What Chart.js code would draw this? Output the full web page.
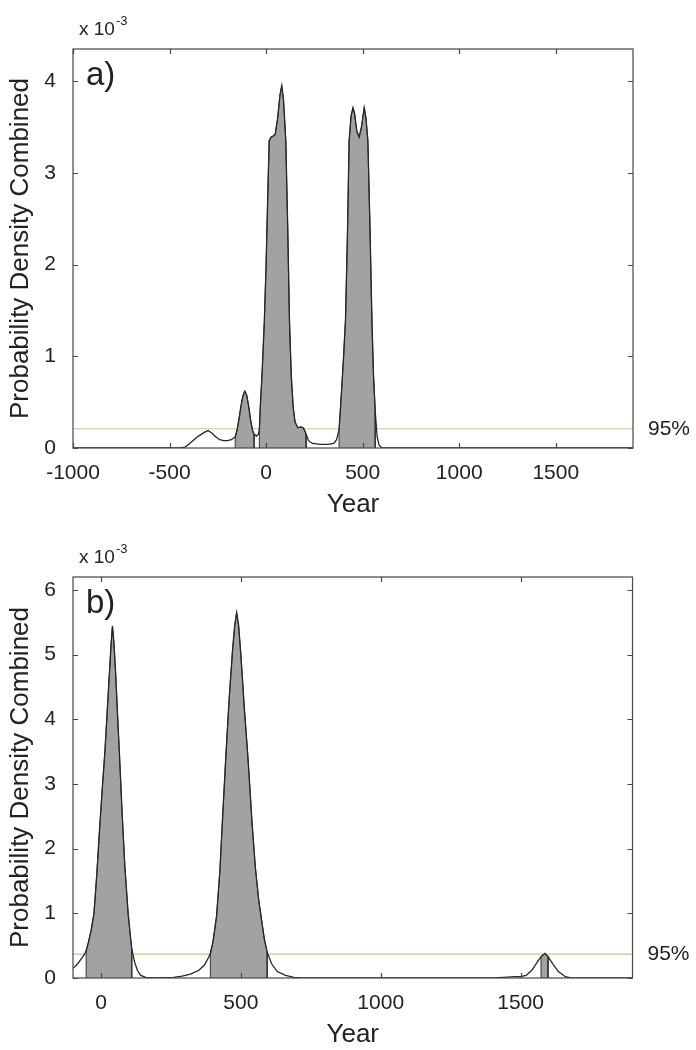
<!DOCTYPE html>
<html>
<head>
<meta charset="utf-8">
<script src="https://cdn.jsdelivr.net/npm/chart.js@4.4.0/dist/chart.umd.min.js"></script>
<style>
  body { margin: 0; background: #fff; }
  canvas { position: absolute; left: 0; }
  #chartA { top: 0; }
  #chartB { top: 520px; }
</style>
</head>
<body>
<canvas id="chartA" width="696" height="520"></canvas>
<canvas id="chartB" width="696" height="530"></canvas>
<script>
// panel a) - density in units of 10^-3
const yearsA = [-1000, -450, -420, -400, -380, -350, -320, -300, -280, -260, -240, -220, -200, -180, -160,
  -150, -140, -130, -120, -110, -100, -90, -80, -70, -62, -50, -40, -35, -30, -20, -9, 0, 8, 16, 26, 36, 47,
  60, 72, 81, 90, 102, 112, 121, 130, 140, 150, 165, 180, 192, 200, 207, 220, 240, 280, 320, 350, 365, 378,
  390, 400, 411, 421, 430, 440, 450, 458, 470, 482, 494, 508, 517, 527, 538, 548, 556, 565, 575, 585, 600, 1900];
const densityA = [0, 0, 0.01, 0.04, 0.08, 0.13, 0.17, 0.19, 0.16, 0.12, 0.09, 0.08, 0.08, 0.09, 0.12,
  0.2, 0.32, 0.46, 0.57, 0.62, 0.57, 0.45, 0.3, 0.19, 0.15, 0.13, 0.15, 0.2, 0.45, 0.85, 1.39, 2.0, 2.7, 3.35, 3.39, 3.4, 3.42,
  3.6, 3.85, 3.95, 3.8, 3.35, 2.4, 1.39, 0.8, 0.45, 0.28, 0.22, 0.23, 0.22, 0.19, 0.15, 0.08, 0.05, 0.04, 0.04, 0.05, 0.09, 0.2,
  0.6, 0.95, 1.39, 2.3, 3.35, 3.62, 3.71, 3.65, 3.45, 3.39, 3.5, 3.71, 3.6, 3.35, 2.4, 1.39, 0.8, 0.4, 0.12, 0.03, 0, 0];
const hpdA = [[-160, -62], [-35, 207], [378, 565]];
const thresholdA = 0.21;
const xTicksA = [-1000, -500, 0, 500, 1000, 1500];
const yTicksA = [0, 1, 2, 3, 4];

// panel b)
const yearsB = [-100, -90, -80, -70, -60, -53, -45, -35, -25, -15, -5, 5, 14, 22, 30, 36, 41, 46, 52, 60, 67,
  75, 85, 97, 105, 110, 120, 130, 142, 160, 200, 260, 290, 320, 350, 370, 385, 391, 400, 413, 425, 435, 446,
  458, 470, 478, 485, 492, 500, 512, 526, 540, 552, 564, 574, 584, 594, 610, 630, 660, 690, 720, 1400, 1440,
  1480, 1500, 1520, 1540, 1560, 1573, 1587, 1598, 1615, 1635, 1660, 1680, 1900];
const densityB = [0.15, 0.19, 0.24, 0.3, 0.36, 0.42, 0.55, 0.74, 1.0, 1.6, 2.3, 2.95, 3.5, 4.1, 4.7, 5.15, 5.44, 5.2, 4.75, 4.0, 3.37,
  2.6, 1.75, 1.0, 0.65, 0.45, 0.25, 0.12, 0.04, 0.01, 0, 0.01, 0.03, 0.06, 0.12, 0.2, 0.32, 0.38, 0.55, 0.95, 1.65, 2.5, 3.4,
  4.3, 5.05, 5.45, 5.65, 5.45, 5.0, 4.2, 3.37, 2.4, 1.7, 1.2, 0.9, 0.6, 0.4, 0.22, 0.1, 0.04, 0.01, 0, 0, 0.01,
  0.02, 0.02, 0.04, 0.12, 0.25, 0.33, 0.38, 0.33, 0.22, 0.1, 0.02, 0, 0];
const hpdB = [[-53, 110], [391, 594], [1573, 1598]];
const thresholdB = 0.37;
const xTicksB = [0, 500, 1000, 1500];
const yTicksB = [0, 1, 2, 3, 4, 5, 6];

const FONT = 'Liberation Sans';
const TEXT = '#222';

function toPoints(xs, ys) {
  return xs.map((x, i) => ({ x: x, y: ys[i] }));
}

// gray area for one HPD interval, closed down to zero at both ends
function hpdPoints(xs, ys, range) {
  const pts = [{ x: range[0], y: 0 }];
  xs.forEach((x, i) => {
    if (x >= range[0] && x <= range[1]) pts.push({ x: x, y: ys[i] });
  });
  pts.push({ x: range[1], y: 0 });
  return pts;
}

// matlab style box with inward ticks + the loose labels
const frame = {
  id: 'frame',
  afterDraw(chart, args, opts) {
    const { ctx, chartArea: a, scales: { x, y } } = chart;
    ctx.save();
    ctx.strokeStyle = '#474747';
    ctx.lineWidth = 1.2;
    ctx.strokeRect(a.left, a.top, a.right - a.left, a.bottom - a.top);
    ctx.beginPath();
    x.ticks.forEach(t => {
      const px = Math.round(x.getPixelForValue(t.value)) + 0.5;
      ctx.moveTo(px, a.bottom); ctx.lineTo(px, a.bottom - 5);
      ctx.moveTo(px, a.top); ctx.lineTo(px, a.top + 5);
    });
    y.ticks.forEach(t => {
      const py = Math.round(y.getPixelForValue(t.value)) + 0.5;
      ctx.moveTo(a.left, py); ctx.lineTo(a.left + 5, py);
      ctx.moveTo(a.right, py); ctx.lineTo(a.right - 5, py);
    });
    ctx.stroke();

    ctx.fillStyle = TEXT;
    ctx.textBaseline = 'alphabetic';
    ctx.font = '33px "' + FONT + '"';
    ctx.fillText(opts.panel, a.left + 13, a.top + 36);

    ctx.font = '19px "' + FONT + '"';
    ctx.fillText('x 10', a.left + 6, a.top - 14);
    const w = ctx.measureText('x 10').width;
    ctx.font = '13px "' + FONT + '"';
    ctx.fillText('-3', a.left + 7 + w, a.top - 24);

    ctx.font = '21px "' + FONT + '"';
    ctx.textBaseline = 'middle';
    ctx.fillText('95%', a.right + 15, y.getPixelForValue(opts.threshold));
    ctx.restore();
  }
};

function makeChart(id, p) {
  const datasets = p.hpd.map(r => ({
    data: hpdPoints(p.years, p.density, r),
    showLine: true,
    fill: 'origin',
    backgroundColor: '#a2a2a2',
    borderColor: '#333',
    borderWidth: 1,
    pointRadius: 0,
    order: 2
  }));
  datasets.push({
    data: [{ x: p.xMin, y: p.threshold }, { x: p.xMax, y: p.threshold }],
    showLine: true,
    borderColor: '#b9cc88',
    borderWidth: 1.2,
    pointRadius: 0,
    order: 3
  });
  datasets.push({
    data: toPoints(p.years, p.density),
    showLine: true,
    fill: false,
    borderColor: '#262626',
    borderWidth: 1.3,
    pointRadius: 0,
    order: 1
  });

  return new Chart(document.getElementById(id), {
    type: 'scatter',
    data: { datasets: datasets },
    options: {
      responsive: false,
      animation: false,
      devicePixelRatio: 1,
      layout: { padding: { left: 0, right: p.padRight, top: p.padTop, bottom: 0 } },
      plugins: {
        legend: { display: false },
        tooltip: { enabled: false },
        frame: { panel: p.panel, threshold: p.threshold }
      },
      scales: {
        x: {
          type: 'linear',
          min: p.xMin,
          max: p.xMax,
          grid: { display: false },
          border: { display: false },
          afterBuildTicks: s => { s.ticks = p.xTicks.map(v => ({ value: v })); },
          afterFit: s => { s.height = 72; },
          ticks: {
            padding: 5, color: TEXT, maxRotation: 0, autoSkip: false,
            font: { family: FONT, size: 21 },
            callback: v => String(v)
          },
          title: {
            display: true, text: 'Year', color: TEXT,
            font: { family: FONT, size: 26 },
            padding: { top: 0, bottom: 0 }
          }
        },
        y: {
          type: 'linear',
          min: 0,
          max: p.yMax,
          grid: { display: false },
          border: { display: false },
          afterBuildTicks: s => { s.ticks = p.yTicks.map(v => ({ value: v })); },
          afterFit: s => { s.width = 73; },
          ticks: {
            padding: 9, color: TEXT,
            font: { family: FONT, size: 21 },
            callback: v => String(v)
          },
          title: {
            display: true, text: 'Probability Density Combined', color: TEXT,
            font: { family: FONT, size: 26 },
            padding: { top: 5, bottom: 0 }
          }
        }
      }
    },
    plugins: [frame]
  });
}

makeChart('chartA', {
  panel: 'a)', years: yearsA, density: densityA, hpd: hpdA, threshold: thresholdA,
  xMin: -1000, xMax: 1900, yMax: 4.35, xTicks: xTicksA, yTicks: yTicksA,
  padTop: 49, padRight: 63
});

makeChart('chartB', {
  panel: 'b)', years: yearsB, density: densityB, hpd: hpdB, threshold: thresholdB,
  xMin: -100, xMax: 1900, yMax: 6.2, xTicks: xTicksB, yTicks: yTicksB,
  padTop: 57, padRight: 63.5
});
</script>
</body>
</html>
